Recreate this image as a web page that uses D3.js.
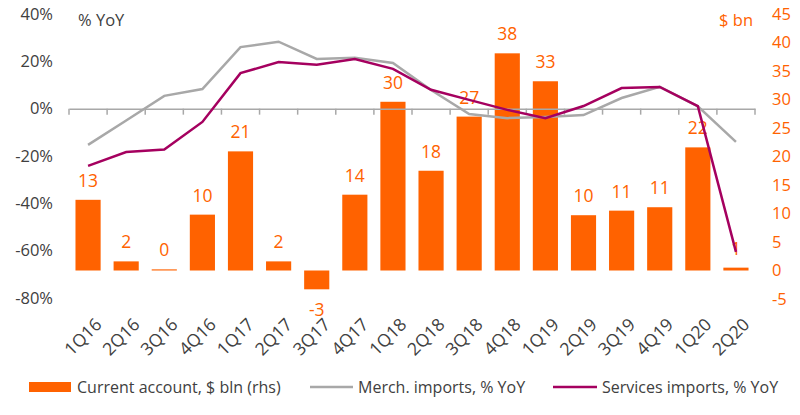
<!DOCTYPE html>
<html>
<head>
<meta charset="utf-8">
<script src="https://cdn.jsdelivr.net/npm/d3@7"></script>
<style>
  body { margin: 0; background: #fff; }
  text { font-family: "Open Sans", sans-serif; }
</style>
</head>
<body>
<svg width="800" height="415"></svg>
<script>
let quarters = ['1Q16','2Q16','3Q16','4Q16','1Q17','2Q17','3Q17','4Q17','1Q18','2Q18',
                '3Q18','4Q18','1Q19','2Q19','3Q19','4Q19','1Q20','2Q20']
let currentAccount = [12.4, 1.6, 0.2, 9.8, 20.9, 1.6, -3.3, 13.3, 29.6, 17.5,
                      27.0, 38.1, 33.2, 9.7, 10.5, 11.1, 21.6, 0.5]
let caLabels = ['13','2','0','10','21','2','-3','14','30','18','27','38','33','10','11','11','22','1']
let merchImports = [-15.3, -5, 5.4, 8.3, 26, 28.3, 21, 21.5, 19.3, 7.9,
                    -2.3, -4, -3.5, -2.7, 4.5, 9.2, 1, -14]
let servicesImports = [-24.2, -18.3, -17.3, -5.6, 15, 19.7, 18.6, 21, 16.8, 8,
                       3.7, -0.5, -4, 1.1, 8.7, 9.2, 1.1, -60.5]
let leftTicks = [40, 20, 0, -20, -40, -60, -80]
let rightTicks = [45, 40, 35, 30, 25, 20, 15, 10, 5, 0, -5]

let orange = '#ff6200'
let grey = '#a8a8a8'
let purple = '#a5005f'
let textColor = '#404040'

let svg = d3.select('svg')
let plot = { left: 69, right: 755, top: 14, bottom: 298 }

let scale = {
    x: d3.scaleBand().domain(quarters).range([plot.left, plot.right]).paddingInner(0.34).paddingOuter(0.17),
    xPoint: d3.scaleBand().domain(quarters).range([plot.left, plot.right]),
    y: d3.scaleLinear().domain([-80, 40]).range([plot.bottom, plot.top]),
    y2: d3.scaleLinear().domain([-5, 45]).range([plot.bottom + 1, plot.top])
}

// bars
svg.selectAll('.bar')
    .data(quarters)
    .enter()
    .append('rect')
    .attr('class', 'bar')
    .attr('x', d => scale.x(d))
    .attr('y', (d, i) => scale.y2(Math.max(0, currentAccount[i])))
    .attr('width', scale.x.bandwidth())
    .attr('height', (d, i) => Math.max(1, Math.abs(scale.y2(currentAccount[i]) - scale.y2(0))))
    .attr('fill', orange)

// x axis on the 0% line
let axisX = d3.axisBottom(scale.xPoint).tickSize(0).tickFormat('')
let gx = svg.append('g')
    .attr('transform', `translate(0,${scale.y(0)})`)
    .call(axisX)
gx.select('.domain').attr('stroke', grey).attr('stroke-width', 1.5)
let bounds = quarters.map(q => scale.xPoint(q)).concat([plot.right])
gx.selectAll('.bound')
    .data(bounds)
    .enter()
    .append('line')
    .attr('x1', d => d).attr('x2', d => d)
    .attr('y1', 0).attr('y2', 6)
    .attr('stroke', grey).attr('stroke-width', 1.5)

// category labels
svg.selectAll('.cat')
    .data(quarters)
    .enter()
    .append('text')
    .attr('class', 'cat')
    .attr('transform', d => `translate(${scale.xPoint(d) + scale.xPoint.bandwidth() / 2 + 6},${317}) rotate(-45)`)
    .attr('text-anchor', 'end')
    .attr('dy', '0.7em')
    .attr('font-size', 17.5)
    .attr('fill', textColor)
    .text(d => d)

// lines
let line = data => d3.line()
    .x((d, i) => scale.xPoint(quarters[i]) + scale.xPoint.bandwidth() / 2)
    .y(d => scale.y(d))(data)

svg.append('path')
    .attr('d', line(merchImports))
    .attr('fill', 'none')
    .attr('stroke', grey)
    .attr('stroke-width', 2.5)

// bar labels
svg.selectAll('.lbl')
    .data(quarters)
    .enter()
    .append('text')
    .attr('class', 'lbl')
    .attr('x', d => scale.xPoint(d) + scale.xPoint.bandwidth() / 2)
    .attr('y', (d, i) => currentAccount[i] >= 0
        ? scale.y2(currentAccount[i]) - 13
        : scale.y2(currentAccount[i]) + 27)
    .attr('text-anchor', 'middle')
    .attr('font-size', 17.5)
    .attr('fill', orange)
    .text((d, i) => caLabels[i])

svg.append('path')
    .attr('d', line(servicesImports))
    .attr('fill', 'none')
    .attr('stroke', purple)
    .attr('stroke-width', 2.5)

// left axis labels
svg.selectAll('.lt')
    .data(leftTicks)
    .enter()
    .append('text')
    .attr('x', 53)
    .attr('y', d => scale.y(d))
    .attr('dy', '0.35em')
    .attr('text-anchor', 'end')
    .attr('font-size', 16.5)
    .attr('fill', textColor)
    .text(d => d + '%')

// right axis labels
svg.selectAll('.rt')
    .data(rightTicks)
    .enter()
    .append('text')
    .attr('x', 772)
    .attr('y', d => scale.y2(d))
    .attr('dy', '0.35em')
    .attr('text-anchor', 'start')
    .attr('font-size', 16.5)
    .attr('fill', orange)
    .text(d => d)

svg.append('text')
    .attr('x', 78).attr('y', 20).attr('dy', '0.35em')
    .attr('font-size', 16.5).attr('fill', textColor)
    .text('% YoY')

svg.append('text')
    .attr('x', 753).attr('y', 20).attr('dy', '0.35em')
    .attr('text-anchor', 'end')
    .attr('font-size', 16.5).attr('fill', orange)
    .text('$ bn')

// legend
let legend = svg.append('g').attr('transform', 'translate(0,387)')
legend.append('rect').attr('x', 29).attr('y', -5).attr('width', 42).attr('height', 10).attr('fill', orange)
legend.append('text').attr('x', 77).attr('dy', '0.35em').attr('font-size', 16).attr('fill', textColor)
    .text('Current account, $ bln (rhs)')
legend.append('line').attr('x1', 310).attr('x2', 353).attr('stroke', grey).attr('stroke-width', 2.5)
legend.append('text').attr('x', 358).attr('dy', '0.35em').attr('font-size', 16).attr('fill', textColor)
    .text('Merch. imports, % YoY')
legend.append('line').attr('x1', 553).attr('x2', 597).attr('stroke', purple).attr('stroke-width', 2.5)
legend.append('text').attr('x', 602).attr('dy', '0.35em').attr('font-size', 16).attr('fill', textColor)
    .text('Services imports, % YoY')
</script>
</body>
</html>
